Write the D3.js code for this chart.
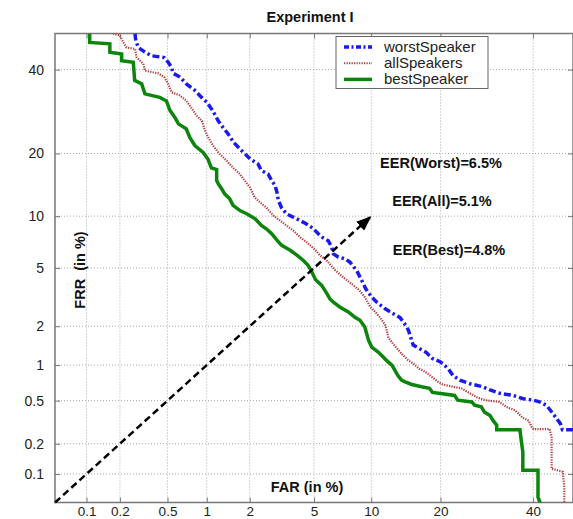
<!DOCTYPE html>
<html>
<head>
<meta charset="utf-8">
<script src="https://cdn.jsdelivr.net/npm/d3@7"></script>
<style>
  body { margin: 0; background: #fff; }
  svg { display: block; font-family: "Liberation Sans", Arial, sans-serif; }
</style>
</head>
<body>
<div id="root"></div>
<script>
// DET curves, both axes in % on a normal-deviate scale
const xTicks = [0.1, 0.2, 0.5, 1, 2, 5, 10, 20, 40];
const xTickLabels = ["0.1", "0.2", "0.5", "1", "2", "5", "10", "20", "40"];
const yTicks = [0.1, 0.2, 0.5, 1, 2, 5, 10, 20, 40];
const yTickLabels = ["0.1", "0.2", "0.5", "1", "2", "5", "10", "20", "40"];

const seriesNames = ["worstSpeaker", "allSpeakers", "bestSpeaker"];
const eerLabels = ["EER(Worst)=6.5%", "EER(All)=5.1%", "EER(Best)=4.8%"];

const farWorst = [0.27, 0.274, 0.288, 0.327, 0.37, 0.47, 0.507, 0.538, 0.555, 0.626, 0.702, 0.815, 0.915, 1.0, 1.08, 1.14, 1.21, 1.31, 1.42, 1.56, 1.76, 2.02, 2.27, 2.39, 2.64, 2.78, 2.92, 3.0, 3.06, 3.2, 3.43, 3.77, 4.14, 4.5, 4.96, 5.28, 5.6, 6.0, 6.26, 6.4, 6.8, 7.37, 7.8, 8.46, 8.97, 9.4, 10.05, 10.6, 11.6, 12.7, 13.6, 14.4, 14.8, 15.5, 16.5, 17.5, 18.6, 20.0, 21.4, 22.3, 23.6, 25.6, 28.3, 29.9, 32.1, 35.2, 37.6, 40.0, 41.6, 43.3, 45.0, 46.8, 47.3, 50];
const frrWorst = [50, 48.0, 46.1, 44.8, 43.8, 43.3, 42.0, 40.6, 39.0, 38.0, 36.2, 34.5, 32.7, 31.5, 29.9, 28.6, 27.0, 25.5, 24.1, 22.2, 20.6, 18.9, 18.0, 16.8, 16.2, 15.1, 14.3, 13.3, 12.1, 11.1, 10.3, 9.89, 9.48, 9.1, 8.54, 8.0, 7.6, 7.3, 6.7, 6.1, 5.84, 5.7, 5.45, 4.83, 4.17, 3.66, 3.22, 2.98, 2.68, 2.46, 2.31, 2.03, 1.86, 1.44, 1.35, 1.27, 1.13, 1.06, 0.935, 0.82, 0.75, 0.70, 0.66, 0.62, 0.58, 0.555, 0.52, 0.505, 0.487, 0.455, 0.38, 0.31, 0.272, 0.272];

const farAll = [0.174, 0.2, 0.214, 0.228, 0.27, 0.279, 0.317, 0.327, 0.42, 0.47, 0.507, 0.538, 0.626, 0.70, 0.79, 0.84, 0.92, 0.97, 1.025, 1.11, 1.24, 1.39, 1.54, 1.72, 1.85, 2.01, 2.16, 2.33, 2.57, 2.84, 3.13, 3.43, 3.77, 4.14, 4.5, 4.75, 5.1, 5.4, 5.85, 6.2, 6.55, 7.0, 7.55, 8.15, 8.75, 9.3, 9.9, 10.45, 11.0, 11.65, 11.85, 12.05, 12.67, 13.3, 14.0, 14.7, 15.5, 16.4, 17.4, 18.2, 19.7, 20.4, 22.3, 23.9, 25.3, 27.1, 28.8, 32.0, 33.6, 35.6, 37.5, 38.9, 39.7, 40.1, 44.1, 44.6, 44.6, 45.8, 47.4, 47.8, 47.8];
const frrAll = [50, 49.5, 47.5, 46.1, 45.7, 43.3, 41.6, 39.7, 39.0, 38.0, 36.2, 34.0, 33.2, 31.9, 29.5, 28.2, 27.0, 24.8, 23.3, 21.6, 19.9, 18.6, 17.3, 16.2, 15.1, 14.0, 12.5, 11.85, 11.1, 10.1, 9.48, 8.9, 8.35, 7.65, 7.2, 6.86, 6.41, 5.98, 5.6, 5.2, 4.84, 4.5, 4.17, 3.86, 3.57, 3.22, 2.75, 2.54, 2.32, 2.04, 1.85, 1.64, 1.47, 1.33, 1.2, 1.1, 1.03, 0.935, 0.88, 0.82, 0.72, 0.69, 0.66, 0.64, 0.59, 0.535, 0.505, 0.487, 0.44, 0.41, 0.35, 0.33, 0.286, 0.275, 0.275, 0.23, 0.113, 0.11, 0.105, 0.073, 0.045];

const farBest = [0.107, 0.107, 0.163, 0.163, 0.207, 0.207, 0.261, 0.268, 0.307, 0.327, 0.433, 0.49, 0.522, 0.572, 0.61, 0.70, 0.746, 0.815, 0.94, 1.02, 1.08, 1.18, 1.18, 1.21, 1.28, 1.35, 1.46, 1.54, 1.72, 1.91, 2.17, 2.39, 2.58, 2.78, 3.0, 3.21, 3.62, 3.97, 4.34, 4.63, 4.8, 5.1, 5.52, 5.9, 6.13, 6.4, 6.95, 7.68, 8.3, 8.8, 9.3, 9.5, 9.7, 10.05, 10.8, 11.4, 11.8, 12.5, 12.9, 13.3, 13.8, 14.3, 15.3, 16.8, 18.1, 18.6, 20.0, 22.6, 23.2, 26.0, 26.6, 28.0, 28.7, 29.9, 30.6, 31.4, 31.4, 36.8, 37.1, 37.5, 37.5, 41.2, 41.2, 42.1];
const frrBest = [50, 47.5, 47.1, 44.8, 44.3, 42.4, 42.0, 37.1, 36.2, 33.6, 32.7, 31.8, 29.5, 27.8, 26.3, 25.2, 23.3, 21.6, 20.2, 18.9, 17.3, 17.0, 15.1, 14.6, 13.8, 13.0, 12.3, 11.4, 10.7, 10.3, 9.69, 8.9, 8.5, 8.0, 7.35, 6.86, 6.41, 6.0, 5.56, 5.18, 4.83, 4.2, 3.86, 3.40, 3.13, 2.97, 2.74, 2.54, 2.32, 2.21, 1.97, 1.76, 1.57, 1.39, 1.27, 1.16, 1.09, 1.0, 0.905, 0.82, 0.75, 0.725, 0.69, 0.66, 0.64, 0.59, 0.577, 0.555, 0.505, 0.487, 0.455, 0.44, 0.395, 0.368, 0.33, 0.30, 0.272, 0.272, 0.217, 0.166, 0.109, 0.109, 0.057, 0.045];

const diagFrom = [0.05, 0.05];
const diagTo = [10, 10];

// inverse normal CDF (Acklam)
function probit(p) {
    const a = [-39.69683028665376, 220.9460984245205, -275.9285104469687, 138.3577518672690, -30.66479806614716, 2.506628277459239];
    const b = [-54.47609879822406, 161.5858368580409, -155.6989798598866, 66.80131188771972, -13.28068155288572];
    const c = [-0.007784894002430293, -0.3223964580411365, -2.400758277161838, -2.549732539343734, 4.374664141464968, 2.938163982698783];
    const d = [0.007784695709041462, 0.3224671290700398, 2.445134137142996, 3.754408661907416];
    const pl = 0.02425;
    let q, r;
    if (p < pl) {
        q = Math.sqrt(-2 * Math.log(p));
        return (((((c[0]*q+c[1])*q+c[2])*q+c[3])*q+c[4])*q+c[5]) / ((((d[0]*q+d[1])*q+d[2])*q+d[3])*q+1);
    }
    if (p <= 1 - pl) {
        q = p - 0.5; r = q * q;
        return (((((a[0]*r+a[1])*r+a[2])*r+a[3])*r+a[4])*r+a[5])*q / (((((b[0]*r+b[1])*r+b[2])*r+b[3])*r+b[4])*r+1);
    }
    q = Math.sqrt(-2 * Math.log(1 - p));
    return -(((((c[0]*q+c[1])*q+c[2])*q+c[3])*q+c[4])*q+c[5]) / ((((d[0]*q+d[1])*q+d[2])*q+d[3])*q+1);
}
const pz = v => probit(v / 100);

const width = 573, height = 519;
const plotLeft = 55, plotRight = 573, plotTop = 33.5, plotBottom = 502.5;

const x = d3.scaleLinear().domain([pz(0.05), pz(50)]).range([plotLeft, plotRight]);
const y = d3.scaleLinear().domain([pz(0.05), pz(50)]).range([plotBottom, plotTop]);

let svg = d3.select("#root").append("svg")
    .attr("width", width)
    .attr("height", height);

const defs = svg.append("defs");
defs.append("clipPath").attr("id", "plot-clip")
    .append("rect")
    .attr("x", plotLeft).attr("y", plotTop)
    .attr("width", plotRight - plotLeft).attr("height", plotBottom - plotTop);

// arrow head for the diagonal
defs.append("marker")
    .attr("id", "arrow")
    .attr("markerUnits", "userSpaceOnUse")
    .attr("markerWidth", 16).attr("markerHeight", 12)
    .attr("refX", 15).attr("refY", 6)
    .attr("orient", "auto")
    .append("path")
    .attr("d", "M0,0 L15,6 L0,12 Z")
    .attr("fill", "#000");

// grid
const grid = svg.append("g").attr("class", "grid")
    .attr("stroke", "#aaa").attr("stroke-width", 1).attr("stroke-dasharray", "1,2");
grid.selectAll(".gx").data(xTicks).enter().append("line")
    .attr("x1", d => x(pz(d))).attr("x2", d => x(pz(d)))
    .attr("y1", plotTop).attr("y2", plotBottom);
grid.selectAll(".gy").data(yTicks).enter().append("line")
    .attr("y1", d => y(pz(d))).attr("y2", d => y(pz(d)))
    .attr("x1", plotLeft).attr("x2", plotRight);

// axes
function styleAxis(g) {
    g.select(".domain").remove();
    g.selectAll(".tick line").attr("stroke", "#777");
    g.selectAll(".tick text").attr("fill", "#222");
    g.attr("font-family", "Liberation Sans, Arial, sans-serif").attr("font-size", 14);
}

svg.append("g").attr("transform", `translate(0,${plotBottom})`)
    .call(d3.axisBottom(x).tickValues(xTicks.map(pz))
        .tickFormat((d, i) => xTickLabels[i]).tickSize(-5).tickPadding(3.5))
    .call(styleAxis)
    .attr("font-size", 13.5);
svg.append("g").attr("transform", `translate(0,${plotTop})`)
    .call(d3.axisTop(x).tickValues(xTicks.map(pz)).tickFormat("").tickSize(-5))
    .call(styleAxis);
svg.append("g").attr("transform", `translate(${plotLeft},0)`)
    .call(d3.axisLeft(y).tickValues(yTicks.map(pz))
        .tickFormat((d, i) => yTickLabels[i]).tickSize(-5).tickPadding(11))
    .call(styleAxis);
svg.append("g").attr("transform", `translate(${plotRight},0)`)
    .call(d3.axisRight(y).tickValues(yTicks.map(pz)).tickFormat("").tickSize(-5))
    .call(styleAxis);

// frame
svg.append("rect")
    .attr("x", plotLeft).attr("y", plotTop)
    .attr("width", plotRight - plotLeft).attr("height", plotBottom - plotTop)
    .attr("fill", "none").attr("stroke", "#777").attr("stroke-width", 1.5);

// curves
const line = d3.line()
    .x(d => x(pz(d[0])))
    .y(d => y(pz(d[1])));

const curves = svg.append("g").attr("clip-path", "url(#plot-clip)");

const series = [
    {far: farAll, frr: frrAll, color: "#b8403f", width: 2.2, dash: "1.3,1.2"},
    {far: farBest, frr: frrBest, color: "#0b850b", width: 3.5, dash: null},
    {far: farWorst, frr: frrWorst, color: "#1a1af0", width: 3.5, dash: "7,3,2.5,3"}
];

series.forEach(s => {
    curves.append("path")
        .datum(d3.zip(s.far, s.frr))
        .attr("d", line)
        .attr("fill", "none")
        .attr("stroke", s.color)
        .attr("stroke-width", s.width)
        .attr("stroke-dasharray", s.dash);
});

// diagonal
svg.append("line")
    .attr("x1", x(pz(diagFrom[0]))).attr("y1", y(pz(diagFrom[1])))
    .attr("x2", x(pz(diagTo[0]))).attr("y2", y(pz(diagTo[1])))
    .attr("stroke", "#000").attr("stroke-width", 2.5)
    .attr("stroke-dasharray", "7,4")
    .attr("marker-end", "url(#arrow)");

// legend
const legend = svg.append("g").attr("transform", "translate(336,36.5)");
legend.append("rect")
    .attr("width", 152).attr("height", 52)
    .attr("fill", "#fff").attr("stroke", "#666").attr("stroke-width", 1);
const legendStyle = [
    {color: "#1a1af0", width: 3.5, dash: "5,2.5,2,2.5"},
    {color: "#b8403f", width: 2, dash: "1.3,1.2"},
    {color: "#0b850b", width: 3.5, dash: null}
];
seriesNames.forEach((name, i) => {
    const ly = 10.5 + i * 16.2;
    legend.append("line")
        .attr("x1", 8).attr("x2", 36).attr("y1", ly).attr("y2", ly)
        .attr("stroke", legendStyle[i].color)
        .attr("stroke-width", legendStyle[i].width)
        .attr("stroke-dasharray", legendStyle[i].dash);
    legend.append("text")
        .attr("x", 48).attr("y", ly + 5)
        .attr("font-size", 15).attr("fill", "#222")
        .text(name);
});

// annotations
const eerPos = [[441, 168], [442, 206], [449, 255]];
eerLabels.forEach((t, i) => {
    svg.append("text")
        .attr("x", eerPos[i][0]).attr("y", eerPos[i][1])
        .attr("text-anchor", "middle")
        .attr("font-size", 14.5).attr("font-weight", "bold").attr("fill", "#111")
        .text(t);
});

svg.append("text")
    .attr("x", 310).attr("y", 21.5)
    .attr("text-anchor", "middle")
    .attr("font-size", 14.5).attr("font-weight", "bold").attr("fill", "#111")
    .text("Experiment I");

svg.append("text")
    .attr("x", 307).attr("y", 492)
    .attr("text-anchor", "middle")
    .attr("font-size", 14.5).attr("font-weight", "bold").attr("fill", "#111")
    .text("FAR (in %)");

svg.append("text")
    .attr("transform", "translate(85,270) rotate(-90)")
    .attr("text-anchor", "middle")
    .attr("font-size", 14.5).attr("font-weight", "bold").attr("fill", "#111")
    .attr("xml:space", "preserve")
    .text("FRR  (in %)");
</script>
</body>
</html>
